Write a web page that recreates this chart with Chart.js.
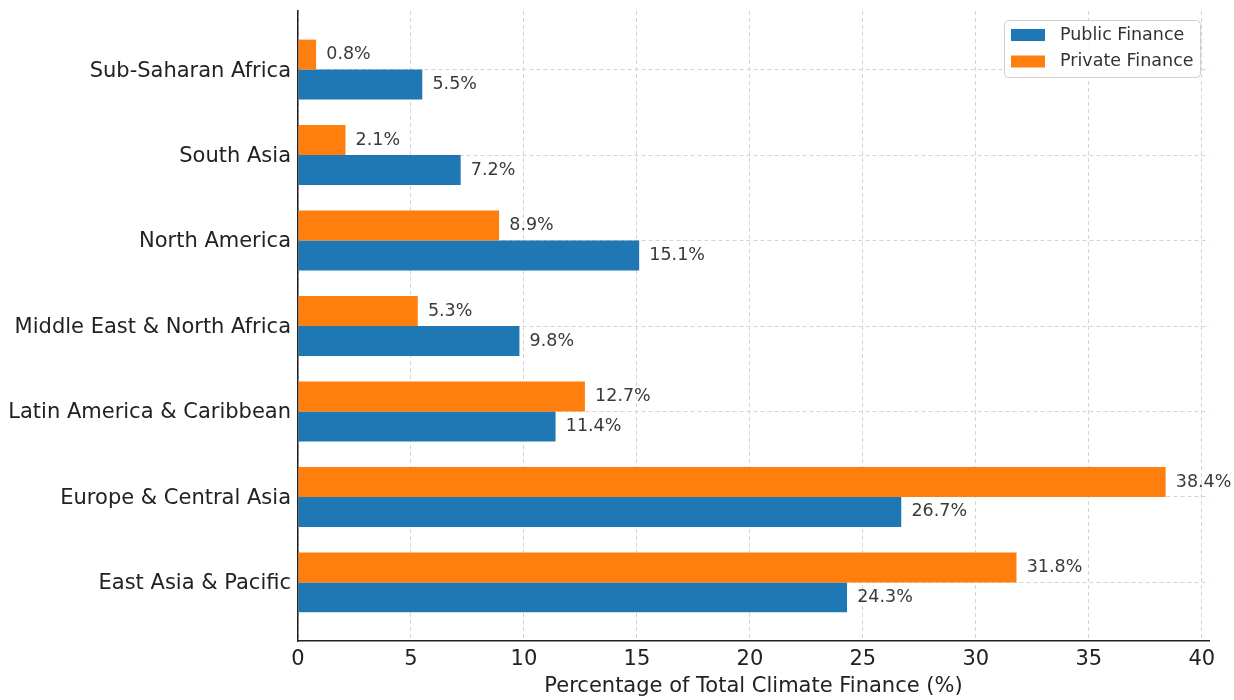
<!DOCTYPE html>
<html>
<head>
<meta charset="utf-8">
<script src="https://cdn.jsdelivr.net/npm/chart.js@4.4.1/dist/chart.umd.min.js"></script>
<style>
    html, body { margin: 0; padding: 0; background: #fff; }
    #wrap { width: 1234px; height: 700px; }
</style>
</head>
<body>
<div id="wrap"><canvas id="chart" width="1234" height="700"></canvas></div>
<script>
// Regions, top to bottom as drawn
const regions = [
    'Sub-Saharan Africa',
    'South Asia',
    'North America',
    'Middle East & North Africa',
    'Latin America & Caribbean',
    'Europe & Central Asia',
    'East Asia & Pacific'
];
const publicFinance = [5.5, 7.2, 15.1, 9.8, 11.4, 26.7, 24.3];
const privateFinance = [0.8, 2.1, 8.9, 5.3, 12.7, 38.4, 31.8];
const xTicks = [0, 5, 10, 15, 20, 25, 30, 35, 40];

const FONT = "'DejaVu Sans', sans-serif";
const BLUE = '#1f77b4';
const ORANGE = '#ff7f0e';

// y position: bottom region = 0, top region = n-1
const n = regions.length;
const yPos = (i) => n - 1 - i;
const toPoints = (vals) => vals.map((v, i) => ({ x: v, y: yPos(i) }));

// value labels just right of each bar
const valueLabels = {
    id: 'valueLabels',
    afterDatasetsDraw(chart) {
        const ctx = chart.ctx;
        const xs = chart.scales.x;
        ctx.save();
        ctx.font = '17.5px ' + FONT;
        ctx.fillStyle = '#3a3a3a';
        ctx.textAlign = 'left';
        ctx.textBaseline = 'middle';
        chart.data.datasets.forEach((ds, di) => {
            const meta = chart.getDatasetMeta(di);
            meta.data.forEach((bar, i) => {
                const v = ds.data[i].x;
                ctx.fillText(v.toFixed(1) + '%', xs.getPixelForValue(v + 0.45), bar.y);
            });
        });
        ctx.restore();
    }
};

// matplotlib-like legend box in upper right of the plot
const boxLegend = {
    id: 'boxLegend',
    afterDraw(chart) {
        const ctx = chart.ctx;
        const area = chart.chartArea;
        const items = chart.data.datasets.slice().reverse();
        const right = area.right - 9, top = area.top + 9;
        const w = 196, h = 57;
        const left = right - w;
        ctx.save();
        ctx.beginPath();
        ctx.roundRect(left + 0.5, top + 0.5, w, h, 4);
        ctx.fillStyle = 'rgba(255,255,255,0.85)';
        ctx.fill();
        ctx.strokeStyle = '#d0d0d0';
        ctx.lineWidth = 1;
        ctx.stroke();
        ctx.font = '17.5px ' + FONT;
        ctx.textBaseline = 'middle';
        ctx.textAlign = 'left';
        items.forEach((ds, i) => {
            const cy = top + 15 + i * 26.5;
            ctx.fillStyle = ds.backgroundColor;
            ctx.fillRect(left + 7, cy - 6, 34, 12);
            ctx.fillStyle = '#333';
            ctx.fillText(ds.label, left + 56, cy);
        });
        ctx.restore();
    }
};

new Chart(document.getElementById('chart'), {
    type: 'bar',
    data: {
        datasets: [
            { label: 'Private Finance', data: toPoints(privateFinance), backgroundColor: ORANGE },
            { label: 'Public Finance', data: toPoints(publicFinance), backgroundColor: BLUE }
        ]
    },
    options: {
        indexAxis: 'y',
        responsive: false,
        animation: false,
        devicePixelRatio: 1,
        layout: { padding: { left: 0, right: 25, top: 11, bottom: 0 } },
        datasets: {
            bar: { barPercentage: 1, categoryPercentage: 0.7, borderWidth: 0 }
        },
        scales: {
            x: {
                type: 'linear',
                min: 0,
                max: 40.32,
                afterBuildTicks: (axis) => { axis.ticks = xTicks.map(v => ({ value: v })); },
                afterFit: (axis) => { axis.height = 59; },
                grid: { color: '#d4d4d4', lineWidth: 1, drawTicks: false },
                border: { display: true, color: '#222', width: 1.5, dash: [4, 3] },
                ticks: { color: '#222', font: { family: FONT, size: 21 }, padding: 6 },
                title: {
                    display: true,
                    text: 'Percentage of Total Climate Finance (%)',
                    color: '#222',
                    font: { family: FONT, size: 21 },
                    padding: { top: 0, bottom: 1 }
                }
            },
            y: {
                type: 'linear',
                offset: false,
                min: -0.685,
                max: n - 1 + 0.685,
                afterBuildTicks: (axis) => { axis.ticks = regions.map((r, i) => ({ value: yPos(i) })); },
                afterFit: (axis) => {
                    axis.width = 298;
                    axis.paddingTop = 0;
                    axis.paddingBottom = 0;
                },
                grid: { offset: false, color: '#d4d4d4', lineWidth: 1, drawTicks: false },
                border: { display: true, color: '#222', width: 1.5, dash: [4, 3] },
                ticks: {
                    color: '#222',
                    font: { family: FONT, size: 21 },
                    padding: 7,
                    labelOffset: 1.5,
                    callback: (v) => regions[n - 1 - v]
                }
            }
        },
        plugins: {
            legend: { display: false },
            tooltip: { enabled: false }
        }
    },
    plugins: [valueLabels, boxLegend]
});
</script>
</body>
</html>
